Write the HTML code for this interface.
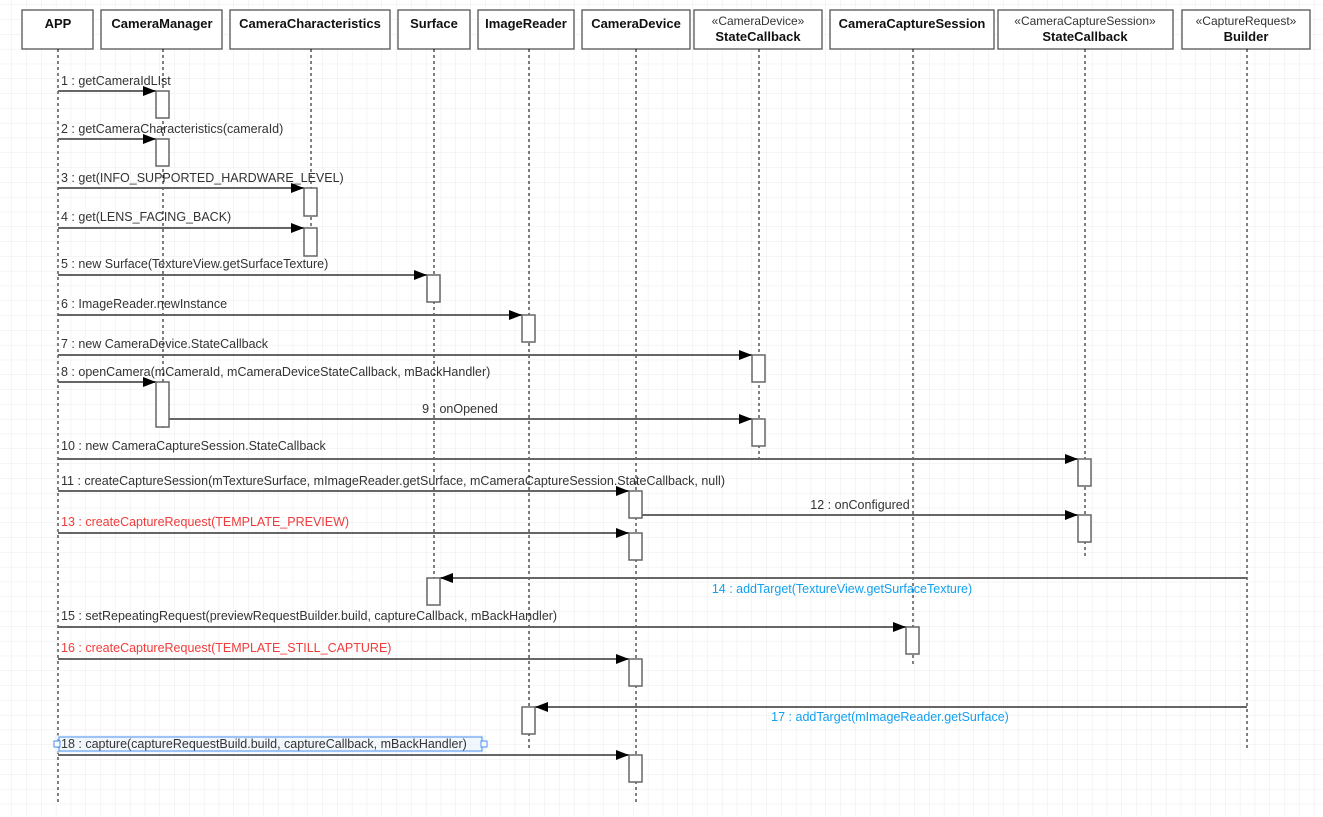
<!DOCTYPE html>
<html><head><meta charset="utf-8"><style>
html,body{margin:0;padding:0;background:#fff;}
svg{display:block;font-family:"Liberation Sans",sans-serif;}
</style></head><body>
<svg width="1323" height="817" viewBox="0 0 1323 817" xmlns="http://www.w3.org/2000/svg">
<defs>
<pattern id="g" x="12" y="5" width="14.8" height="14.8" patternUnits="userSpaceOnUse">
<path d="M14.8 0V14.8M0 14.8H14.8" fill="none" stroke="#ebebeb" stroke-width="1"/>
</pattern>
<marker id="a" markerWidth="14" markerHeight="10" refX="13" refY="5" orient="auto" markerUnits="userSpaceOnUse">
<path d="M0 0L13 5L0 10Z" fill="#000"/>
</marker>
</defs>
<rect width="1323" height="817" fill="url(#g)"/>
<g fill="#fff" stroke="#555" stroke-width="1.3">
<rect x="22" y="10" width="71" height="39"/>
<rect x="101" y="10" width="121" height="39"/>
<rect x="230" y="10" width="160" height="39"/>
<rect x="398" y="10" width="72" height="39"/>
<rect x="478" y="10" width="96" height="39"/>
<rect x="582" y="10" width="108" height="39"/>
<rect x="694" y="10" width="128" height="39"/>
<rect x="830" y="10" width="164" height="39"/>
<rect x="998" y="10" width="175" height="39"/>
<rect x="1182" y="10" width="128" height="39"/>
</g>
<g font-size="13" font-weight="bold" text-anchor="middle" fill="#111">
<text x="58" y="28">APP</text>
<text x="162" y="28">CameraManager</text>
<text x="310" y="28">CameraCharacteristics</text>
<text x="434" y="28">Surface</text>
<text x="526" y="28">ImageReader</text>
<text x="636" y="28">CameraDevice</text>
<text x="758" y="41">StateCallback</text>
<text x="912" y="28">CameraCaptureSession</text>
<text x="1085" y="41">StateCallback</text>
<text x="1246" y="41">Builder</text>
</g>
<g font-size="12" text-anchor="middle" fill="#333">
<text x="758" y="25">«CameraDevice»</text>
<text x="1085" y="25">«CameraCaptureSession»</text>
<text x="1246" y="25">«CaptureRequest»</text>
</g>
<g stroke="#000" stroke-width="1" stroke-dasharray="3,3">
<line x1="58" y1="49" x2="58" y2="805"/>
<line x1="163" y1="49" x2="163" y2="428"/>
<line x1="311" y1="49" x2="311" y2="256"/>
<line x1="434" y1="49" x2="434" y2="606"/>
<line x1="529" y1="49" x2="529" y2="748"/>
<line x1="636" y1="49" x2="636" y2="805"/>
<line x1="759" y1="49" x2="759" y2="460"/>
<line x1="913" y1="49" x2="913" y2="666"/>
<line x1="1085" y1="49" x2="1085" y2="557"/>
<line x1="1247" y1="49" x2="1247" y2="748"/>
</g>
<g stroke="#666" stroke-width="2" marker-end="url(#a)">
<line x1="58" y1="91" x2="156" y2="91"/>
<line x1="58" y1="139" x2="156" y2="139"/>
<line x1="58" y1="188" x2="304" y2="188"/>
<line x1="58" y1="228" x2="304" y2="228"/>
<line x1="58" y1="275" x2="427" y2="275"/>
<line x1="58" y1="315" x2="522" y2="315"/>
<line x1="58" y1="355" x2="752" y2="355"/>
<line x1="58" y1="382" x2="156" y2="382"/>
<line x1="169" y1="419" x2="752" y2="419"/>
<line x1="58" y1="459" x2="1078" y2="459"/>
<line x1="58" y1="491" x2="629" y2="491"/>
<line x1="642" y1="515" x2="1078" y2="515"/>
<line x1="58" y1="533" x2="629" y2="533"/>
<line x1="1247" y1="578" x2="440" y2="578"/>
<line x1="58" y1="627" x2="906" y2="627"/>
<line x1="58" y1="659" x2="629" y2="659"/>
<line x1="1247" y1="707" x2="535" y2="707"/>
<line x1="58" y1="755" x2="629" y2="755"/>
</g>
<g fill="#fff" stroke="#666" stroke-width="1.5">
<rect x="156" y="91" width="13" height="27"/>
<rect x="156" y="139" width="13" height="27"/>
<rect x="304" y="188" width="13" height="28"/>
<rect x="304" y="228" width="13" height="28"/>
<rect x="427" y="275" width="13" height="27"/>
<rect x="522" y="315" width="13" height="27"/>
<rect x="752" y="355" width="13" height="27"/>
<rect x="156" y="382" width="13" height="45"/>
<rect x="752" y="419" width="13" height="27"/>
<rect x="1078" y="459" width="13" height="27"/>
<rect x="629" y="491" width="13" height="27"/>
<rect x="1078" y="515" width="13" height="27"/>
<rect x="629" y="533" width="13" height="27"/>
<rect x="427" y="578" width="13" height="27"/>
<rect x="906" y="627" width="13" height="27"/>
<rect x="629" y="659" width="13" height="27"/>
<rect x="522" y="707" width="13" height="27"/>
<rect x="629" y="755" width="13" height="27"/>
</g>
<rect x="55" y="735" width="430" height="18" fill="#eaf1fc" opacity="0.6"/>
<rect x="59" y="737" width="423" height="14" fill="none" stroke="#4a8ff0" stroke-width="1"/>
<rect x="54" y="741" width="6" height="6" fill="#fff" stroke="#4a8ff0"/>
<rect x="481" y="741" width="6" height="6" fill="#fff" stroke="#4a8ff0"/>
<g font-size="12.5" fill="#333">
<text x="61" y="85">1 : getCameraIdLIst</text>
<text x="61" y="133">2 : getCameraCharacteristics(cameraId)</text>
<text x="61" y="182">3 : get(INFO_SUPPORTED_HARDWARE_LEVEL)</text>
<text x="61" y="221">4 : get(LENS_FACING_BACK)</text>
<text x="61" y="268">5 : new Surface(TextureView.getSurfaceTexture)</text>
<text x="61" y="308">6 : ImageReader.newInstance</text>
<text x="61" y="348">7 : new CameraDevice.StateCallback</text>
<text x="61" y="376">8 : openCamera(mCameraId, mCameraDeviceStateCallback, mBackHandler)</text>
<text x="460" y="413" text-anchor="middle">9 : onOpened</text>
<text x="61" y="450">10 : new CameraCaptureSession.StateCallback</text>
<text x="61" y="485">11 : createCaptureSession(mTextureSurface, mImageReader.getSurface, mCameraCaptureSession.StateCallback, null)</text>
<text x="860" y="509" text-anchor="middle">12 : onConfigured</text>
<text x="61" y="526" fill="#f03c3c">13 : createCaptureRequest(TEMPLATE_PREVIEW)</text>
<text x="842" y="593" text-anchor="middle" fill="#12a0f0">14 : addTarget(TextureView.getSurfaceTexture)</text>
<text x="61" y="620">15 : setRepeatingRequest(previewRequestBuilder.build, captureCallback, mBackHandler)</text>
<text x="61" y="652" fill="#f03c3c">16 : createCaptureRequest(TEMPLATE_STILL_CAPTURE)</text>
<text x="890" y="721" text-anchor="middle" fill="#12a0f0">17 : addTarget(mImageReader.getSurface)</text>
<text x="61" y="748">18 : capture(captureRequestBuild.build, captureCallback, mBackHandler)</text>
</g>
</svg>
</body></html>
